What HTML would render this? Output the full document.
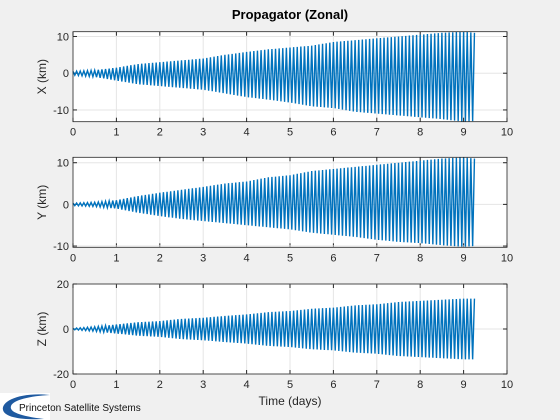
<!DOCTYPE html>
<html><head><meta charset="utf-8"><style>
body{margin:0;background:#f0f0f0;}
svg{display:block;font-family:"Liberation Sans",Arial,sans-serif;}
</style></head><body>
<svg id="fig" width="560" height="420" viewBox="0 0 560 420">
<rect width="560" height="420" fill="#f0f0f0"/>
<text x="290" y="19" text-anchor="middle" font-size="13" font-weight="bold" fill="#000">Propagator (Zonal)</text>
<text x="290" y="405" text-anchor="middle" font-size="12" fill="#262626">Time (days)</text>
<g>
<rect x="0" y="393" width="50" height="27" fill="#fff"/>
<path d="M50,395 C20,392 1,401 3,410 C5,418 24,420 44,419 C20,416 9,412 11,406 C13,400 30,396 50,395 Z" fill="#1f5aa0"/>
<text x="19" y="411" font-size="10" fill="#111">Princeton Satellite Systems</text>
</g>
<g id="plots"></g>
</svg>
<script>
const knots=[0,0.5,1,1.5,2,2.5,3,3.5,4,4.5,5,5.5,6,6.5,7,7.5,8,8.5,9,9.25];
const xUpper=[0.5,0.8,1.5,2.5,3,3.5,4,5,5.8,6.5,7,7.5,8.5,9,9.5,10,10.5,11,11.3,11];
const xLower=[-0.5,-1,-2,-3,-3.5,-4,-4.5,-5.5,-6.5,-7.2,-8,-9,-9.5,-10.5,-11,-11.5,-12,-12.5,-13.2,-13];
const yUpper=[0.3,0.5,1,2,2.8,3.5,4.2,5,5.5,6.5,7,8,8.5,9,9.5,10,10.5,11,11.3,11];
const yLower=[-0.3,-0.5,-1,-2,-2.8,-3.5,-4,-4.5,-5,-5.5,-6,-6.8,-7.3,-7.8,-8.5,-9,-9.3,-9.8,-10.2,-10];
const zUpper=[0.3,1,2,3,3.5,4.5,5,5.8,6.5,7.5,8,9,9.5,10.5,11,12,12.5,13,13.5,13.5];
const zLower=[-0.3,-1,-2,-3,-3.5,-4.5,-5,-5.8,-6.5,-7.5,-8,-9,-9.5,-10.5,-11,-12,-12.5,-13,-13.5,-13.5];
const cyclesPerDay=12;
const xTicks=[0,1,2,3,4,5,6,7,8,9,10];
const xTickLabels=["0","1","2","3","4","5","6","7","8","9","10"];
const panels=[
 {name:"x",label:"X (km)",top:31.7,bottom:121.7,ymin:-13.2,ymax:11.3,ticks:[-10,0,10],up:xUpper,lo:xLower},
 {name:"y",label:"Y (km)",top:157.3,bottom:247.3,ymin:-10.3,ymax:11.3,ticks:[-10,0,10],up:yUpper,lo:yLower},
 {name:"z",label:"Z (km)",top:284,bottom:374,ymin:-20,ymax:20,ticks:[-20,0,20],up:zUpper,lo:zLower}
];
const L=73,R=507,NS="http://www.w3.org/2000/svg";
const g=document.getElementById('plots');
function mk(t,a,p){const e=document.createElementNS(NS,t);for(const k in a)e.setAttribute(k,a[k]);(p||g).appendChild(e);return e;}
function interp(arr,t){for(let i=0;i<knots.length-1;i++){if(t<=knots[i+1]){const f=(t-knots[i])/(knots[i+1]-knots[i]);return arr[i]+f*(arr[i+1]-arr[i]);}}return arr[arr.length-1];}
const sx=t=>L+(t-0)/(10-0)*(R-L);
panels.forEach(p=>{
 const sy=v=>p.bottom-(v-p.ymin)/(p.ymax-p.ymin)*(p.bottom-p.top);
 const ax=mk('g',{});
 
 
 mk('rect',{x:L,y:p.top,width:R-L,height:p.bottom-p.top,fill:'#fff'},ax);
 xTicks.forEach((t,i)=>{
  const gl=mk('line',{x1:sx(t),x2:sx(t),y1:p.top,y2:p.bottom,stroke:'#e5e5e5','stroke-width':1},ax);
  
  
  mk('line',{x1:sx(t),x2:sx(t),y1:p.bottom,y2:p.bottom-4,stroke:'#262626'},ax);
  mk('line',{x1:sx(t),x2:sx(t),y1:p.top,y2:p.top+4,stroke:'#262626'},ax);
  const tl=mk('text',{x:sx(t),y:p.bottom+14,'text-anchor':'middle','font-size':11,fill:'#262626'},ax);
  tl.textContent=xTickLabels[i];
  
  
 });
 p.ticks.forEach(v=>{
  const gl=mk('line',{x1:L,x2:R,y1:sy(v),y2:sy(v),stroke:'#e5e5e5'},ax);
  
  
  mk('line',{x1:L,x2:L+4,y1:sy(v),y2:sy(v),stroke:'#262626'},ax);
  mk('line',{x1:R,x2:R-4,y1:sy(v),y2:sy(v),stroke:'#262626'},ax);
  const tl=mk('text',{x:L-4,y:sy(v)+4,'text-anchor':'end','font-size':11,fill:'#262626'},ax);
  tl.textContent=String(v);
  
  
 });
 let pts=[];const tEnd=knots[knots.length-1];const n=Math.floor(tEnd*cyclesPerDay*2);
 for(let k=0;k<=n;k++){const t=k/(cyclesPerDay*2);const v=k%2?interp(p.lo,t):interp(p.up,t);pts.push(sx(t).toFixed(2)+','+sy(v).toFixed(2));}
 const ln=mk('polyline',{points:pts.join(' '),fill:'none',stroke:'#0072bd','stroke-width':1.4},ax);
 
 
 mk('rect',{x:L,y:p.top,width:R-L,height:p.bottom-p.top,fill:'none',stroke:'#262626','stroke-width':0.8},ax);
 const yl=mk('text',{x:0,y:0,'text-anchor':'middle','font-size':12,fill:'#262626',transform:`translate(46,${(p.top+p.bottom)/2}) rotate(-90)`},ax);
 yl.textContent=p.label;
 
 
});
</script>
</body></html>
